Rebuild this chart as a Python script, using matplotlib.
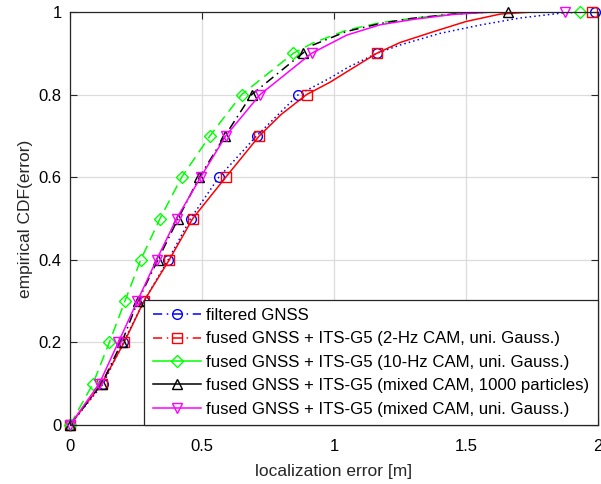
"""
Empirical CDF of the localization error for GNSS-only and fused GNSS + ITS-G5 filters.
"""
import numpy as np
import matplotlib.pyplot as plt
from matplotlib.lines import Line2D

plt.rcParams["font.family"] = ["Liberation Sans", "DejaVu Sans"]

# -------------------- Data --------------------
cdf_levels = [0.0, 0.1, 0.2, 0.3, 0.4, 0.5, 0.6, 0.7, 0.8, 0.9, 1.0]

# error (m) at each CDF level -> marker positions
gnss_mk = [0, 0.126, 0.202, 0.28, 0.372, 0.457, 0.564, 0.707, 0.865, 1.162, 1.99]
cam2_mk = [0, 0.12, 0.205, 0.28, 0.376, 0.465, 0.59, 0.717, 0.896, 1.162, 1.976]
cam10_mk = [0, 0.087, 0.149, 0.208, 0.268, 0.341, 0.423, 0.53, 0.65, 0.846, 1.93]
mixpf_mk = [0, 0.12, 0.196, 0.257, 0.333, 0.41, 0.49, 0.587, 0.688, 0.881, 1.66]
mixug_mk = [0, 0.111, 0.183, 0.255, 0.328, 0.404, 0.495, 0.59, 0.72, 0.915, 1.875]

# continuous curves (error, cdf)
gnss_x = [0, 0.126, 0.202, 0.28, 0.372, 0.457, 0.564, 0.707, 0.865, 0.985, 1.05, 1.162, 1.25, 1.4, 1.55, 1.7, 1.87, 1.97]
gnss_y = [0, 0.1, 0.2, 0.3, 0.4, 0.5, 0.6, 0.7, 0.8, 0.84, 0.865, 0.9, 0.92, 0.948, 0.968, 0.985, 0.998, 1.0]
cam2_x = [0, 0.12, 0.205, 0.28, 0.376, 0.465, 0.59, 0.717, 0.8, 0.896, 0.985, 1.048, 1.162, 1.25, 1.375, 1.5, 1.63, 1.75, 1.976]
cam2_y = [0, 0.1, 0.2, 0.3, 0.4, 0.5, 0.6, 0.7, 0.752, 0.8, 0.83, 0.855, 0.9, 0.926, 0.952, 0.977, 0.995, 1.0, 1.0]
cam10_x = [0, 0.087, 0.149, 0.208, 0.268, 0.341, 0.423, 0.53, 0.65, 0.846, 0.92, 1.048, 1.174, 1.3, 1.45, 1.6, 1.93]
cam10_y = [0, 0.1, 0.2, 0.3, 0.4, 0.5, 0.6, 0.7, 0.8, 0.9, 0.925, 0.956, 0.974, 0.985, 0.995, 1.0, 1.0]
mixpf_x = [0, 0.12, 0.196, 0.257, 0.333, 0.41, 0.49, 0.587, 0.688, 0.881, 0.92, 1.048, 1.174, 1.3, 1.45, 1.6, 1.66]
mixpf_y = [0, 0.1, 0.2, 0.3, 0.4, 0.5, 0.6, 0.7, 0.8, 0.9, 0.92, 0.953, 0.972, 0.985, 0.995, 1.0, 1.0]
mixug_x = [0, 0.111, 0.183, 0.255, 0.328, 0.404, 0.495, 0.59, 0.72, 0.915, 1.048, 1.174, 1.3, 1.45, 1.6, 1.875]
mixug_y = [0, 0.1, 0.2, 0.3, 0.4, 0.5, 0.6, 0.7, 0.8, 0.9, 0.944, 0.969, 0.982, 0.994, 1.0, 1.0]

labels = [
    "filtered GNSS",
    "fused GNSS + ITS-G5 (2-Hz CAM, uni. Gauss.)",
    "fused GNSS + ITS-G5 (10-Hz CAM, uni. Gauss.)",
    "fused GNSS + ITS-G5 (mixed CAM, 1000 particles)",
    "fused GNSS + ITS-G5 (mixed CAM, uni. Gauss.)",
]

# -------------------- Style --------------------
colors = ["#0000ff", "#ff0000", "#00ff00", "#000000", "#ff00ff"]
markers = ["o", "s", "D", "^", "v"]
msizes = [7, 7, 6, 7, 7]
curve_ls = [(0, (1, 2)), "-", (0, (7, 4)), (0, (6, 3, 1, 3)), "-"]
legend_ls = [(0, (6, 3, 1, 3)), (0, (6, 3, 1, 3)), "-", "-", "-"]

curves = [(gnss_x, gnss_y), (cam2_x, cam2_y), (cam10_x, cam10_y), (mixpf_x, mixpf_y), (mixug_x, mixug_y)]
marks = [gnss_mk, cam2_mk, cam10_mk, mixpf_mk, mixug_mk]

# -------------------- Plot --------------------
fig = plt.figure(figsize=(6.01, 4.84), dpi=100)
ax = fig.add_axes([70 / 601, 59 / 484, 528 / 601, 413 / 484])

for (cx, cy), mk, c, m, ms, ls in zip(curves, marks, colors, markers, msizes, curve_ls):
    ax.plot(cx, cy, color=c, linestyle=ls, linewidth=1.1)
    ax.plot(mk, cdf_levels, linestyle="none", marker=m, markersize=ms,
            markerfacecolor="none", markeredgecolor=c, markeredgewidth=1.0, clip_on=False)

ax.set_xlim(0, 2)
ax.set_ylim(0, 1)
ax.set_xticks([0, 0.5, 1, 1.5, 2])
ax.set_xticklabels(["0", "0.5", "1", "1.5", "2"])
ax.set_yticks([0, 0.2, 0.4, 0.6, 0.8, 1])
ax.set_yticklabels(["0", "0.2", "0.4", "0.6", "0.8", "1"])
ax.grid(True, color="#dcdcdc", linewidth=0.9)
ax.set_axisbelow(True)
ax.tick_params(direction="in", length=5, width=0.8, color="#262626", labelsize=12,
               top=True, right=True, pad=6)
ax.tick_params(axis="x", pad=10)
for s in ax.spines.values():
    s.set_color("#262626")
    s.set_linewidth(0.9)

ax.set_xlabel("localization error [m]", fontsize=12.5, color="#262626", labelpad=7)
ax.set_ylabel("empirical CDF(error)", fontsize=12.5, color="#262626", labelpad=4)

handles = [Line2D([], [], color=c, linestyle=ls, marker=m, markersize=ms, markerfacecolor="none",
                  markeredgewidth=1.0, linewidth=1.1)
           for c, m, ms, ls in zip(colors, markers, msizes, legend_ls)]
leg = ax.legend(handles, labels, loc="lower right", fontsize=12.1, frameon=True, fancybox=False,
                borderaxespad=0, handlelength=2.9, handletextpad=0.3, labelspacing=0.5,
                borderpad=0.5)
leg.get_frame().set_edgecolor("#262626")
leg.get_frame().set_linewidth(0.9)
leg.get_frame().set_alpha(1)

fig.savefig("out.png", dpi=100)
